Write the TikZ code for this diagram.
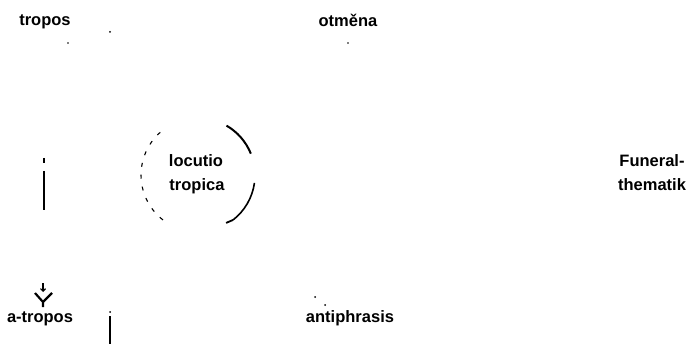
\documentclass[tikz,border=0pt]{standalone}
\usepackage{fontspec}
\setmainfont{Liberation Sans}
\usetikzlibrary{arrows.meta}
\begin{document}
\begin{tikzpicture}[x=1pt,y=-1pt,
  lbl/.style={font=\fontsize{16.5}{19}\selectfont\bfseries, inner sep=0pt, anchor=base},
  bar/.style={line width=2pt},
  speck/.style={fill=black, draw=none}]
\useasboundingbox[fill=white] (0,0) rectangle (695,344);
% labels
\node[lbl] (tropos) at (45,26) {tropos};
\node[lbl] (otmena) at (348,27) {otměna};
\node[lbl] (locutio) at (196,167) {locutio};
\node[lbl] (tropica) at (197,191) {tropica};
\node[lbl] (funeral) at (652,167) {Funeral-};
\node[lbl] (thematik) at (652,191) {thematik};
\node[lbl] (atropos) at (40,322) {a-tropos};
\node[lbl] (antiphrasis) at (350,322) {antiphrasis};
% specks
\fill[speck] (110,32) circle (1);
\fill[speck] (68,43) circle (0.8);
\fill[speck] (348,43) circle (0.9);
\fill[speck] (315,297) circle (1);
\fill[speck] (325,305) circle (1);
\fill[speck] (110,312) circle (1);
% left vertical
\coordinate (l1) at (44,158); \coordinate (l2) at (44,163);
\coordinate (l3) at (44,171); \coordinate (l4) at (44,210);
\draw[line width=1.4pt] (l1) -- (l2);
\draw[bar] (l3) -- (l4);
% bottom vertical
\coordinate (b1) at (110,316); \coordinate (b2) at (110,344);
\draw[line width=1.5pt] (b1) -- (b2);
% Y symbol with arrow
\coordinate (ya) at (43,283); \coordinate (yb) at (43,292);
\draw[line width=1.2pt,-{Straight Barb[length=2.5pt,width=5pt]}] (ya) -- (yb);
\coordinate (yl) at (35,293); \coordinate (yr) at (52,293);
\coordinate (yc) at (43,302); \coordinate (ys) at (43,307);
\draw[line width=2.2pt] (yl) -- (yc) -- (yr) (yc) -- (ys);
% circle around locutio tropica
\coordinate (cc) at (198,175);
\draw[line width=2pt] (cc) ++(-60:57) arc[start angle=-60, end angle=-22, radius=57];
\draw[line width=1.6pt] (cc) ++(8:57) arc[start angle=8, end angle=52, radius=57];
\draw[line width=1.8pt] (cc) ++(52:57) -- ++(-7,3);
\draw[line width=1.1pt, dash pattern=on 4pt off 8pt] (cc) ++(128:57) arc[start angle=128, end angle=232, radius=57];
\end{tikzpicture}
\end{document}
